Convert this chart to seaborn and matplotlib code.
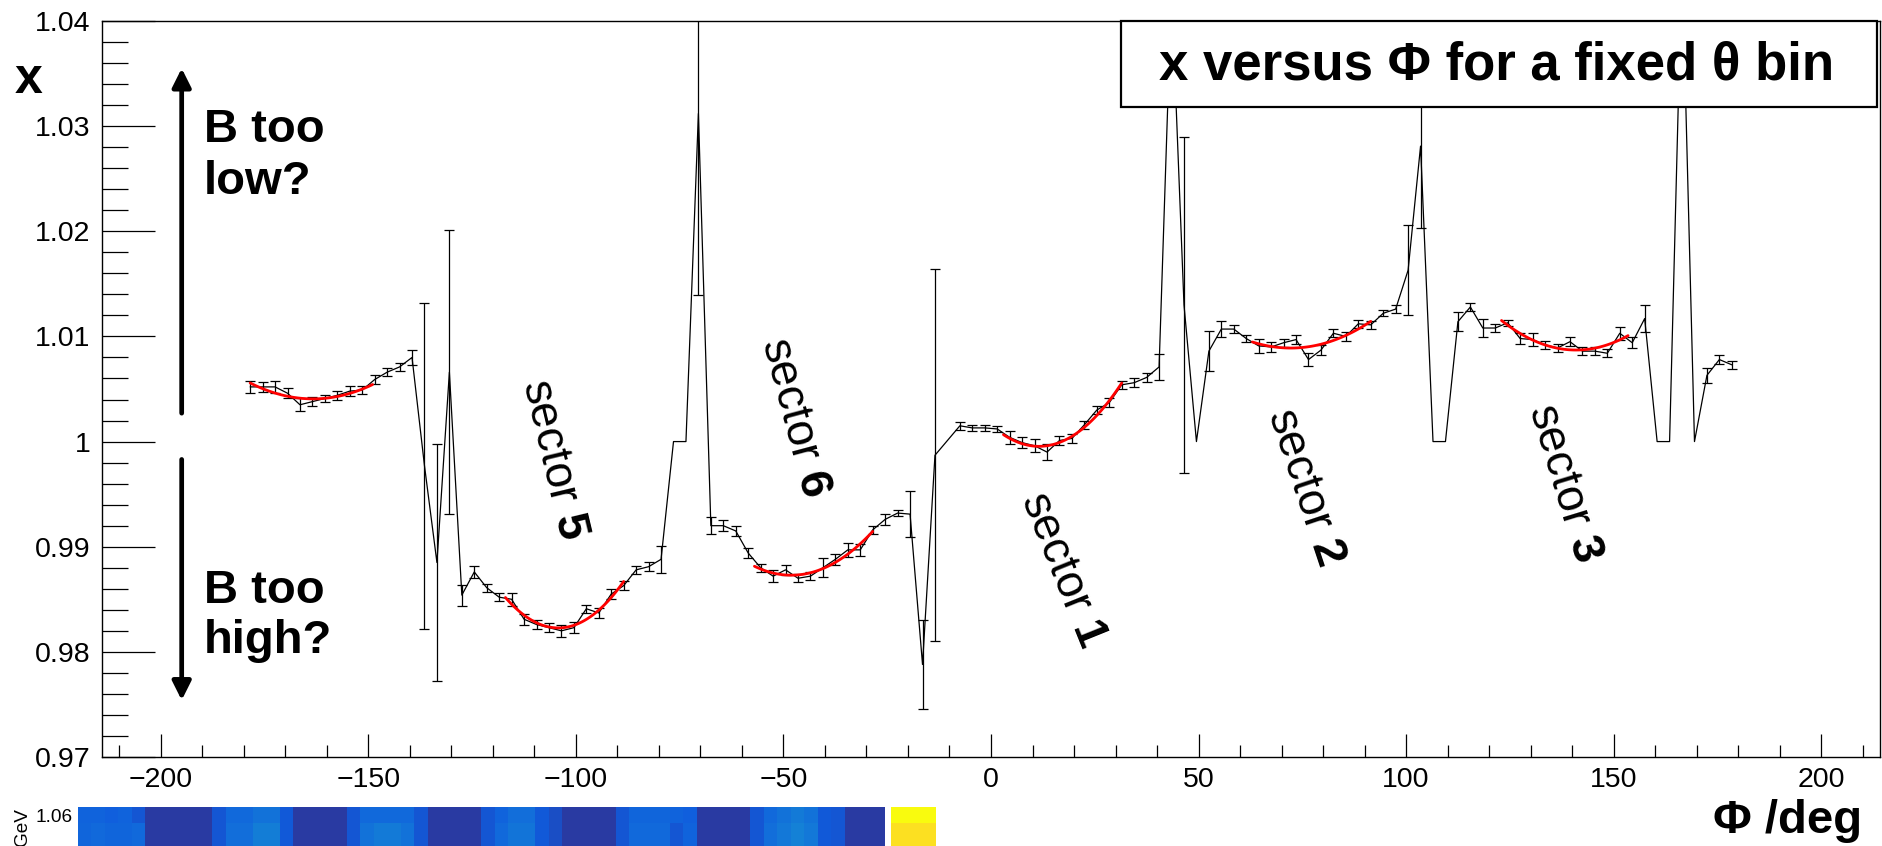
import numpy as np
import pandas as pd
import matplotlib
matplotlib.use("Agg")
import matplotlib.pyplot as plt
import seaborn as sns
from matplotlib.patches import Rectangle
from matplotlib.colors import LinearSegmentedColormap
from matplotlib.ticker import MultipleLocator, FuncFormatter

# ---------------- data ----------------
# 120 bins of 3 degrees in phi (bin centres)
phi_bins = np.arange(-178.5, 180.0, 3.0)

x_sector4 = [1.0052, 1.0052, 1.0052, 1.0046, 1.0035, 1.0038, 1.0041, 1.0044, 1.0048, 1.0049,
             1.0059, 1.0066, 1.0071, 1.0080, 0.9977, 0.9885, 1.0066]
e_sector4 = [0.0006, 0.0005, 0.0006, 0.0005, 0.0006, 0.0004, 0.0003, 0.0004, 0.0005, 0.0004,
             0.0004, 0.0004, 0.0004, 0.0007, 0.0155, 0.0113, 0.0135]

x_sector5 = [0.9854, 0.9876, 0.9861, 0.9852, 0.9850, 0.9831, 0.9826, 0.9823, 0.9820, 0.9823,
             0.9841, 0.9837, 0.9855, 0.9863, 0.9878, 0.9881, 0.9888, 1.0000, 1.0000, 1.0312]
e_sector5 = [0.0010, 0.0006, 0.0004, 0.0004, 0.0006, 0.0005, 0.0004, 0.0004, 0.0006, 0.0005,
             0.0004, 0.0005, 0.0005, 0.0004, 0.0004, 0.0004, 0.0013, 0.0, 0.0, 0.0173]

x_sector6 = [0.9920, 0.9920, 0.9915, 0.9894, 0.9880, 0.9872, 0.9878, 0.9870, 0.9872, 0.9880,
             0.9888, 0.9897, 0.9897, 0.9916, 0.9926, 0.9932, 0.9931, 0.9788, 0.9987, np.nan]
e_sector6 = [0.0008, 0.0005, 0.0005, 0.0005, 0.0004, 0.0006, 0.0005, 0.0004, 0.0004, 0.0009,
             0.0005, 0.0007, 0.0006, 0.0004, 0.0005, 0.0003, 0.0022, 0.0042, 0.0177, 0.0]

x_sector1 = [1.0015, 1.0013, 1.0013, 1.0012, 1.0004, 0.9999, 0.9996, 0.9990, 1.0001, 1.0003,
             1.0016, 1.0030, 1.0037, 1.0054, 1.0056, 1.0061, 1.0071, 1.0430, 1.0130, 1.0000]
e_sector1 = [0.0004, 0.0003, 0.0003, 0.0003, 0.0006, 0.0005, 0.0006, 0.0008, 0.0004, 0.0004,
             0.0004, 0.0004, 0.0004, 0.0004, 0.0004, 0.0004, 0.0012, 0.0100, 0.0160, 0.0]

x_sector2 = [1.0086, 1.0107, 1.0107, 1.0098, 1.0091, 1.0090, 1.0094, 1.0097, 1.0078, 1.0087,
             1.0103, 1.0100, 1.0112, 1.0111, 1.0122, 1.0126, 1.0163, 1.0281, 1.0000, 1.0000]
e_sector2 = [0.0019, 0.0008, 0.0004, 0.0003, 0.0007, 0.0005, 0.0004, 0.0004, 0.0006, 0.0005,
             0.0004, 0.0004, 0.0004, 0.0004, 0.0003, 0.0004, 0.0043, 0.0078, 0.0, 0.0]

x_sector3 = [1.0114, 1.0128, 1.0108, 1.0108, 1.0113, 1.0098, 1.0097, 1.0092, 1.0089, 1.0095,
             1.0086, 1.0086, 1.0084, 1.0103, 1.0094, 1.0117, 1.0000, 1.0000, 1.0460, 1.0000,
             1.0063, 1.0078, 1.0073]
e_sector3 = [0.0009, 0.0004, 0.0009, 0.0004, 0.0003, 0.0005, 0.0006, 0.0004, 0.0004, 0.0004,
             0.0004, 0.0004, 0.0004, 0.0006, 0.0005, 0.0013, 0.0, 0.0, 0.0100, 0.0,
             0.0007, 0.0004, 0.0004]

x_vals = np.array(x_sector4 + x_sector5 + x_sector6 + x_sector1 + x_sector2 + x_sector3, dtype=float)
x_errs = np.array(e_sector4 + e_sector5 + e_sector6 + e_sector1 + e_sector2 + e_sector3, dtype=float)

# quadratic fit ranges (deg)
fit_lo = [-178.5, -117.0, -57.0, 3.0, 63.0, 123.0]
fit_hi = [-149.0, -88.5, -28.5, 31.5, 91.5, 153.5]

# sector labels
sector_names = ["sector $\\mathbf{5}$", "sector $\\mathbf{6}$", "sector $\\mathbf{1}$",
                "sector $\\mathbf{2}$", "sector $\\mathbf{3}$"]
sector_phi = [-105.3, -47.4, 17.2, 75.8, 138.1]
sector_x = [0.99827, 1.00226, 0.98781, 0.99570, 0.99608]
sector_rot = [-76.5, -75.0, -68.0, -71.5, -73.0]

# strip of the (cut) 2D plot below
strip_top = [0.15, 0.15, 0.14, 0.15, 0.11, 0.04, 0.04, 0.04, 0.04, 0.04,
             0.11, 0.17, 0.17, 0.20, 0.20, 0.12, 0.04, 0.04, 0.04, 0.04,
             0.11, 0.17, 0.17, 0.17, 0.17, 0.11, 0.04, 0.04, 0.04, 0.04,
             0.11, 0.15, 0.19, 0.19, 0.12, 0.09, 0.04, 0.04, 0.04, 0.04,
             0.11, 0.16, 0.16, 0.16, 0.15, 0.14, 0.04, 0.04, 0.04, 0.04,
             0.11, 0.17, 0.20, 0.23, 0.20, 0.12, 0.11, 0.04, 0.04, 0.04]
strip_bot = [0.16, 0.17, 0.16, 0.16, 0.17, 0.04, 0.04, 0.04, 0.04, 0.04,
             0.11, 0.19, 0.19, 0.24, 0.24, 0.12, 0.04, 0.04, 0.04, 0.04,
             0.11, 0.20, 0.23, 0.23, 0.20, 0.11, 0.04, 0.04, 0.04, 0.04,
             0.11, 0.17, 0.21, 0.21, 0.12, 0.09, 0.04, 0.04, 0.04, 0.04,
             0.11, 0.17, 0.17, 0.17, 0.11, 0.15, 0.04, 0.04, 0.04, 0.04,
             0.11, 0.19, 0.22, 0.25, 0.22, 0.12, 0.11, 0.04, 0.04, 0.04]
strip_yellow = [1.0, 0.93]

# ---------------- style ----------------
sns.set_theme(style="white")
plt.rcParams['font.family'] = ['Liberation Sans', 'DejaVu Sans']
plt.rcParams['mathtext.fontset'] = 'custom'
plt.rcParams['mathtext.rm'] = 'Liberation Sans'
plt.rcParams['mathtext.bf'] = 'Liberation Sans:bold'
plt.rcParams['text.color'] = 'black'
plt.rcParams['axes.labelcolor'] = 'black'
plt.rcParams['xtick.color'] = 'black'
plt.rcParams['ytick.color'] = 'black'
plt.rcParams['axes.edgecolor'] = 'black'

W, H = 1883, 846
fig = plt.figure(figsize=(W / 100, H / 100), dpi=100)
fig.patch.set_facecolor('white')

ax = fig.add_axes([102 / W, 1 - 757 / H, (1880 - 102) / W, (757 - 21) / H])
ax.set_facecolor('white')

df = pd.DataFrame({'phi': phi_bins, 'x': x_vals, 'err': x_errs})
sns.lineplot(data=df, x='phi', y='x', ax=ax, color='black', lw=0.9,
             estimator=None, sort=False)
has_err = df['err'] > 0
ax.errorbar(df.loc[has_err, 'phi'], df.loc[has_err, 'x'], yerr=df.loc[has_err, 'err'],
            fmt='none', ecolor='black', elinewidth=0.9, capsize=3.3, capthick=0.9, zorder=3)

for lo, hi in zip(fit_lo, fit_hi):
    sel = (df['phi'] >= lo - 0.01) & (df['phi'] <= hi + 0.01) & df['x'].notna()
    coef = np.polyfit(df.loc[sel, 'phi'], df.loc[sel, 'x'], 2)
    grid = np.linspace(lo, hi, 80)
    sns.lineplot(x=grid, y=np.polyval(coef, grid), ax=ax, color='#ff0000', lw=2.0,
                 estimator=None, sort=False, zorder=4)

ax.set_xlim(-214.2, 214.2)
ax.set_ylim(0.97, 1.04)
ax.xaxis.set_major_locator(MultipleLocator(50))
ax.xaxis.set_minor_locator(MultipleLocator(10))
ax.yaxis.set_major_locator(MultipleLocator(0.01))
ax.yaxis.set_minor_locator(MultipleLocator(0.002))
ax.yaxis.set_major_formatter(FuncFormatter(lambda v, p: f"{v:g}"))
ax.tick_params(axis='x', which='major', direction='in', length=16.6, width=0.9,
               labelsize=20.5, pad=7, colors='black', bottom=True, top=False)
ax.tick_params(axis='x', which='minor', direction='in', length=8.6, width=0.9,
               colors='black', bottom=True, top=False)
ax.tick_params(axis='y', which='major', direction='in', length=38, width=0.9,
               labelsize=20.5, pad=8.5, colors='black', left=True, right=False)
ax.tick_params(axis='y', which='minor', direction='in', length=19, width=0.9,
               colors='black', left=True, right=False)
ax.set_xlabel('')
ax.set_ylabel('')
for s in ax.spines.values():
    s.set_visible(True)
    s.set_color('black')
    s.set_linewidth(1.0)

# arrows
arrow_kw = dict(arrowstyle='-|>,head_length=0.4,head_width=0.2', lw=3.4, color='black',
                mutation_scale=28, shrinkA=0, shrinkB=0)
ax.annotate('', xy=(-195.0, 1.0355), xytext=(-195.0, 1.0027), arrowprops=arrow_kw)
ax.annotate('', xy=(-195.0, 0.9754), xytext=(-195.0, 0.9983), arrowprops=arrow_kw)

ax.text(-189.7, 1.0317, "B too\nlow?", fontsize=34, fontweight='bold', ha='left', va='top',
        linespacing=1.22, color='black')
ax.text(-189.7, 0.9879, "B too\nhigh?", fontsize=34, fontweight='bold', ha='left', va='top',
        linespacing=1.18, color='black')

for name, px, py, rot in zip(sector_names, sector_phi, sector_x, sector_rot):
    ax.text(px, py, name, fontsize=33, rotation=rot, ha='center', va='center',
            rotation_mode='anchor', color='black')

# axis titles
fig.text(15 / W, 1 - 93 / H, "x", fontsize=36, fontweight='bold', ha='left', va='baseline',
         color='black')
fig.text(1862 / W, 1 - 833 / H, "\u03a6 /deg", fontsize=34, fontweight='bold',
         ha='right', va='baseline', color='black')

# title box
fig.patches.append(Rectangle((1121 / W, 1 - 107 / H), (1877 - 1121) / W, (107 - 21) / H,
                             transform=fig.transFigure, facecolor='white',
                             edgecolor='black', lw=1.6, zorder=5))
fig.text(1497 / W, 1 - 65 / H, "x versus \u03a6 for a fixed \u03b8 bin", fontsize=38,
         fontweight='bold', ha='center', va='center', zorder=6, color='black')

# ---------------- cut-off 2D plot at the bottom ----------------
bird = LinearSegmentedColormap.from_list('bird', list(zip(
    [0.0, 0.125, 0.25, 0.375, 0.5, 0.625, 0.75, 0.875, 1.0],
    [(0.2082, 0.1664, 0.5293), (0.0592, 0.3599, 0.8684), (0.0780, 0.5041, 0.8385),
     (0.0232, 0.6419, 0.7914), (0.1802, 0.7178, 0.6425), (0.5301, 0.7492, 0.4662),
     (0.8186, 0.7328, 0.3499), (0.9956, 0.7862, 0.1968), (0.9764, 0.9832, 0.0539)])))

ax2 = fig.add_axes([78 / W, -9 / H, (885 - 78) / W, 48 / H])
sns.heatmap(np.array([strip_top, strip_bot, strip_bot]), ax=ax2, cmap=bird, vmin=0, vmax=1,
            cbar=False, xticklabels=False, yticklabels=False)
ax2.set_yticks([0.54])
ax2.set_yticklabels(['1.06'])
ax2.set_yticks([1.375, 2.25], minor=True)
ax2.tick_params(axis='y', which='major', direction='in', left=True, length=17, width=1.0,
                labelsize=13.7, pad=4, colors='black')
ax2.tick_params(axis='y', which='minor', direction='in', left=True, length=9.4, width=1.0,
                colors='black')
ax2.set_xlabel('')
ax2.set_ylabel('')

ax3 = fig.add_axes([891 / W, -9 / H, (936 - 891) / W, 48 / H])
sns.heatmap(np.array([[strip_yellow[0]], [strip_yellow[1]], [strip_yellow[1]]]), ax=ax3,
            cmap=bird, vmin=0, vmax=1, cbar=False, xticklabels=False, yticklabels=False)
ax3.set_xlabel('')
ax3.set_ylabel('')

fig.text(23 / W, 1 - 808 / H, "GeV", fontsize=13.7, rotation=90, ha='center', va='top',
         color='black')

fig.savefig("out.png", dpi=100, facecolor='white')
